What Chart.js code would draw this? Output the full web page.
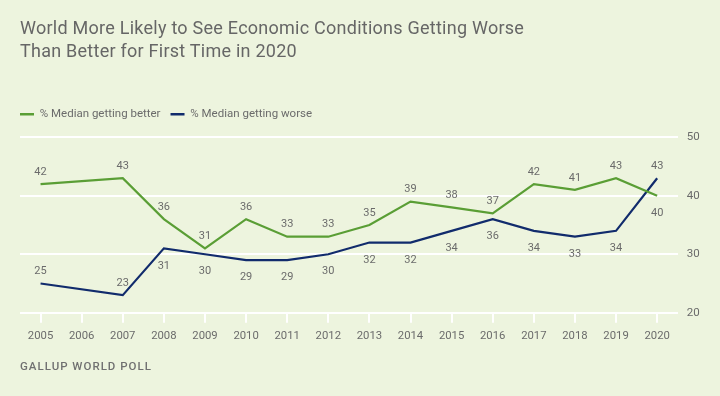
<!DOCTYPE html>
<html>
<head>
<meta charset="utf-8">
<script src="https://cdn.jsdelivr.net/npm/chart.js@4"></script>
<style>
  html, body { margin: 0; padding: 0; background: #edf4de; }
  #wrap { position: relative; width: 720px; height: 396px; overflow: hidden; }
  #lineChart { position: absolute; left: 0; top: 0; }
  #title { position: absolute; left: 20px; top: 15.5px; font: 18px/23.3px Roboto, sans-serif; letter-spacing: 0.25px; color: #666; white-space: nowrap; }
  #source { position: absolute; left: 20px; top: 359px; font: 500 11.5px/14px Roboto, sans-serif; letter-spacing: 1px; color: #707070; }
</style>
</head>
<body>
<div id="wrap">
  <canvas id="lineChart" width="720" height="396"></canvas>
  <div id="title">World More Likely to See Economic Conditions Getting Worse<br>Than Better for First Time in 2020</div>
  <div id="source">GALLUP WORLD POLL</div>
</div>
<script>
// データ（2006年は調査なし）
const years = ['2005', '2006', '2007', '2008', '2009', '2010', '2011', '2012',
               '2013', '2014', '2015', '2016', '2017', '2018', '2019', '2020'];
const better = [42, null, 43, 36, 31, 36, 33, 33, 35, 39, 38, 37, 42, 41, 43, 40];
const worse  = [25, null, 23, 31, 30, 29, 29, 30, 32, 32, 34, 36, 34, 33, 34, 43];
const yTicks = [20, 30, 40, 50];

const textColor = '#6b6b6b';
Chart.defaults.font.family = 'Roboto, sans-serif';

// 値ラベル（上か下か）
const valueLabels = {
  id: 'valueLabels',
  afterDatasetsDraw(chart) {
    const c = chart.ctx;
    const above = [
      i => i !== 15,                 // better
      i => [0, 2, 15].includes(i)    // worse
    ];
    c.save();
    c.font = '11px Roboto, sans-serif';
    c.fillStyle = textColor;
    c.textAlign = 'center';
    c.textBaseline = 'middle';
    chart.data.datasets.forEach((ds, di) => {
      chart.getDatasetMeta(di).data.forEach((pt, i) => {
        const v = ds.data[i];
        if (v == null) return;
        c.fillText(String(v), pt.x, pt.y + (above[di](i) ? -12 : 17.5));
      });
    });
    c.restore();
  }
};

const ctx = document.getElementById('lineChart').getContext('2d');
const lineChart = new Chart(ctx, {
  type: 'line',
  data: {
    labels: years,
    datasets: [{
      label: '% Median getting better',
      data: better,
      borderColor: '#5a9e35',
      backgroundColor: '#5a9e35',
      borderWidth: 2.2,
      pointRadius: 0,
      tension: 0,
      spanGaps: true,
      yAxisID: 'y'
    }, {
      label: '% Median getting worse',
      data: worse,
      borderColor: '#112b6c',
      backgroundColor: '#112b6c',
      borderWidth: 2.2,
      pointRadius: 0,
      tension: 0,
      spanGaps: true,
      yAxisID: 'y'
    }]
  },
  options: {
    responsive: false,
    animation: false,
    layout: { padding: { top: 98.55, left: 10, right: 0, bottom: 53.3 } },
    plugins: {
      tooltip: { enabled: false },
      legend: {
        align: 'start',
        labels: {
          boxWidth: 14,
          boxHeight: 2.5,
          padding: 10,
          color: textColor,
          font: { size: 11.5 },
          generateLabels(chart) {
            return Chart.defaults.plugins.legend.labels.generateLabels(chart)
              .map(l => ({ ...l, fillStyle: l.strokeStyle, lineWidth: 0 }));
          }
        }
      }
    },
    scales: {
      x: {
        offset: true,
        grid: { drawOnChartArea: false, drawTicks: true, tickLength: 10, color: '#fff', lineWidth: 2 },
        border: { display: false },
        ticks: { color: textColor, font: { size: 11.3 }, padding: 7, maxRotation: 0, autoSkip: false },
        afterFit(s) { s.height = 30; }
      },
      y: {
        position: 'right',
        min: 20,
        max: 50,
        afterBuildTicks(s) { s.ticks = yTicks.map(v => ({ value: v })); },
        grid: { color: '#fff', lineWidth: 2, drawTicks: false },
        border: { display: false },
        ticks: { color: textColor, font: { size: 11.5 }, padding: 9 },
        afterFit(s) { s.width = 42.3; }
      },
      // 余白用の空の軸
      pad: {
        type: 'linear',
        position: 'left',
        grid: { display: false },
        border: { display: false },
        ticks: { display: false },
        afterFit(s) { s.width = 10; }
      },
      padTop: {
        type: 'linear',
        axis: 'x',
        position: 'top',
        grid: { display: false },
        border: { display: false },
        ticks: { display: false },
        afterFit(s) { s.height = 7.25; }
      }
    }
  },
  plugins: [valueLabels]
});
</script>
</body>
</html>
